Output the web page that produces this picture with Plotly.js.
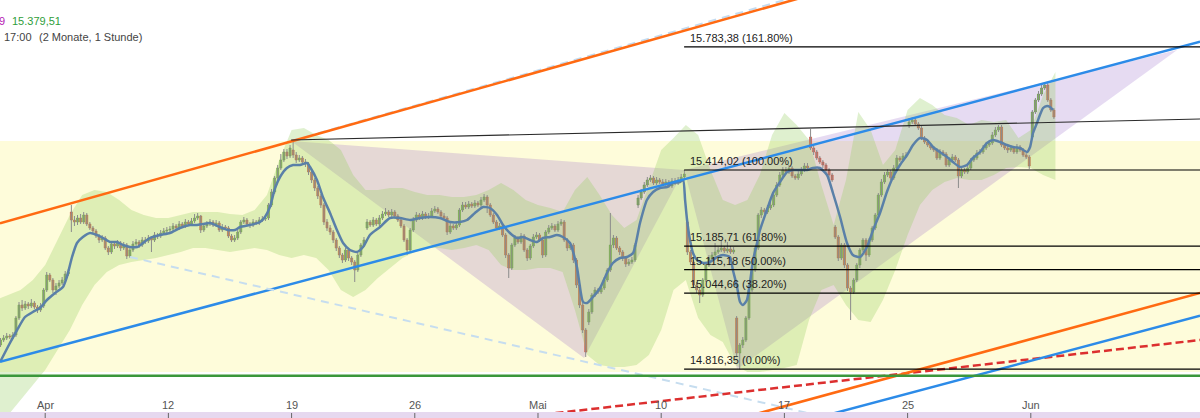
<!DOCTYPE html>
<html><head><meta charset="utf-8">
<script src="https://cdn.plot.ly/plotly-3.0.1.min.js"></script>
<style>html,body{margin:0;padding:0;background:#fff}#chart{width:1200px;height:418px}</style>
</head><body><div id="chart"></div>
<script>
// ---- axis / calendar ----
const tickDays = [0,5,10,15,20,25,30,35,40];
const tickLabels = ['Apr','12','19','26','Mai','10','17','25','Jun'];
const firstDay = -2, lastDay = 40, candlesPerDay = 8;
const xRange = [-1.834, 46.867];
const yRange = [14670, 15924];

// ---- hourly candles (8 per trading day) ----
const open = [
14895,14889,14904,14910,14916,14913,14919,14970,
15009,15000,15012,15006,15015,15003,14994,15006,
15054,15099,15084,15054,15066,15075,15084,15102,
15288,15264,15258,15270,15258,15279,15252,15240,
15231,15216,15204,15210,15180,15168,15192,15186,
15195,15180,15189,15156,15174,15192,15198,15189,
15204,15201,15210,15204,15219,15216,15225,15231,
15234,15237,15246,15240,15252,15246,15258,15252,
15261,15270,15276,15234,15246,15252,15258,15249,
15255,15234,15243,15240,15216,15204,15210,15228,
15258,15264,15252,15249,15258,15255,15264,15267,
15270,15309,15348,15390,15420,15444,15468,15456,
15474,15459,15444,15450,15438,15432,15408,15384,
15360,15336,15309,15258,15240,15228,15204,15180,
15159,15144,15174,15150,15138,15114,15159,15189,
15240,15258,15249,15264,15252,15270,15282,15288,
15279,15288,15276,15264,15246,15204,15174,15234,
15264,15279,15270,15282,15273,15276,15291,15297,
15288,15276,15270,15228,15246,15240,15249,15294,
15309,15303,15312,15306,15315,15309,15324,15333,
15309,15279,15258,15240,15246,15219,15159,15120,
15189,15210,15198,15216,15174,15150,15186,15213,
15219,15204,15159,15228,15240,15246,15234,15252,
15258,15204,15180,15189,15144,15069,15009,14934,
14958,14988,15039,15054,15048,15060,15084,15114,
15189,15210,15180,15168,15150,15132,15138,15144,
15309,15330,15348,15369,15384,15390,15375,15384,
15378,15372,15378,15366,15381,15375,15384,15393,
15258,15168,15138,15069,15054,15039,15084,15129,
15150,15159,15168,15174,15180,15171,15177,15168,
14970,14865,14889,14904,14970,15054,15114,15180,
15279,15294,15288,15300,15309,15339,15369,15399,
15414,15408,15420,15396,15390,15402,15414,15426,
15513,15480,15468,15450,15438,15429,15414,15399,
15243,15213,15150,15189,15129,15060,15048,15084,
15129,15174,15204,15159,15204,15240,15279,15339,
15378,15399,15408,15390,15420,15450,15444,15456,
15549,15558,15564,15552,15540,15510,15498,15489,
15480,15474,15450,15468,15462,15429,15444,15453,
15444,15396,15414,15408,15420,15444,15450,15465,
15468,15480,15489,15495,15519,15534,15543,15489,
15480,15474,15480,15468,15483,15474,15459,15453,
15513,15588,15624,15642,15660,15669,15624,15594];
const high = [
14904,14910,14919,14925,14922,14928,14976,15018,
15024,15021,15018,15027,15021,15009,15015,15060,
15108,15105,15090,15075,15084,15093,15111,15117,
15309,15276,15279,15282,15288,15285,15258,15246,
15237,15222,15219,15216,15186,15198,15201,15204,
15201,15198,15195,15183,15201,15207,15204,15213,
15213,15219,15216,15228,15225,15234,15240,15243,
15246,15255,15252,15261,15258,15267,15264,15270,
15282,15285,15279,15255,15261,15267,15264,15264,
15261,15252,15249,15246,15222,15219,15237,15264,
15273,15270,15258,15267,15264,15273,15276,15279,
15315,15357,15396,15429,15462,15477,15477,15489,
15501,15468,15459,15456,15447,15438,15414,15390,
15366,15342,15315,15267,15249,15234,15210,15186,
15165,15180,15180,15156,15144,15165,15195,15213,
15267,15264,15273,15270,15279,15291,15300,15294,
15297,15294,15282,15270,15252,15210,15240,15273,
15288,15285,15291,15288,15285,15300,15306,15303,
15294,15285,15276,15255,15252,15258,15300,15318,
15318,15321,15318,15324,15321,15333,15342,15339,
15315,15285,15264,15255,15252,15225,15165,15195,
15219,15216,15225,15222,15180,15192,15222,15228,
15225,15210,15234,15249,15255,15252,15261,15267,
15264,15210,15198,15195,15150,15075,15015,14940,
14997,15045,15063,15060,15069,15093,15120,15285,
15219,15216,15186,15174,15156,15147,15153,15195,
15339,15357,15378,15393,15399,15396,15393,15390,
15387,15387,15384,15390,15390,15393,15402,15414,
15264,15174,15144,15078,15060,15090,15135,15159,
15168,15195,15183,15204,15186,15198,15186,15183,
14976,14895,14913,14976,15060,15120,15186,15285,
15303,15300,15309,15318,15348,15378,15408,15423,
15423,15429,15426,15402,15411,15423,15435,15435,
15537,15486,15474,15456,15444,15435,15420,15405,
15249,15219,15195,15195,15135,15066,15090,15135,
15180,15210,15210,15210,15246,15285,15345,15387,
15408,15417,15414,15429,15459,15456,15465,15468,
15570,15573,15570,15558,15546,15516,15504,15495,
15486,15480,15477,15474,15468,15453,15462,15459,
15450,15420,15420,15429,15450,15459,15474,15477,
15489,15498,15504,15528,15543,15549,15549,15495,
15486,15489,15486,15492,15489,15480,15465,15459,
15594,15630,15651,15669,15678,15675,15630,15600];
const low = [
14880,14883,14898,14904,14907,14907,14913,14964,
14991,14994,14997,15000,14997,14985,14988,15000,
15048,15078,15045,15039,15060,15069,15078,15096,
15228,15246,15249,15252,15252,15246,15234,15225,
15210,15195,15198,15174,15159,15162,15177,15180,
15171,15174,15147,15150,15168,15186,15180,15183,
15192,15195,15168,15198,15207,15210,15219,15225,
15228,15231,15234,15234,15240,15240,15246,15246,
15255,15264,15225,15228,15240,15246,15243,15243,
15228,15228,15234,15210,15198,15198,15204,15222,
15252,15246,15240,15243,15249,15249,15258,15261,
15264,15303,15342,15381,15414,15438,15447,15450,
15450,15435,15438,15429,15423,15399,15375,15351,
15327,15300,15249,15231,15219,15195,15171,15150,
15135,15138,15141,15129,15078,15108,15153,15183,
15234,15243,15243,15246,15246,15264,15276,15273,
15273,15270,15258,15240,15198,15159,15168,15228,
15258,15264,15264,15267,15267,15270,15285,15282,
15270,15264,15219,15222,15234,15234,15243,15288,
15297,15297,15300,15300,15303,15303,15318,15285,
15273,15252,15234,15234,15213,15150,15090,15114,
15183,15192,15192,15168,15141,15144,15180,15207,
15198,15150,15153,15222,15234,15228,15228,15246,
15198,15171,15174,15135,15060,15000,14925,14853,
14949,14982,15033,15042,15042,15054,15078,15108,
15180,15174,15159,15141,15123,15126,15132,15138,
15300,15324,15342,15363,15378,15369,15369,15372,
15366,15366,15360,15360,15369,15369,15378,15387,
15159,15129,15060,15045,15015,15033,15078,15123,
15144,15153,15162,15168,15165,15165,15162,15162,
14856,14816,14880,14898,14964,15048,15108,15174,
15270,15282,15282,15294,15303,15333,15363,15393,
15402,15402,15390,15384,15384,15396,15408,15411,
15474,15459,15444,15432,15420,15405,15390,15378,
15207,15141,15144,15120,15051,14964,15042,15078,
15120,15168,15141,15153,15198,15234,15273,15333,
15372,15393,15384,15384,15414,15438,15438,15450,
15540,15552,15546,15534,15504,15492,15483,15474,
15468,15444,15444,15456,15423,15423,15438,15438,
15360,15390,15402,15402,15414,15438,15444,15459,
15462,15474,15483,15489,15513,15528,15483,15474,
15465,15468,15462,15462,15468,15453,15447,15417,
15507,15582,15618,15636,15654,15618,15588,15567];
const close = [
14889,14904,14910,14916,14913,14919,14970,15009,
15000,15012,15006,15015,15003,14994,15006,15054,
15099,15084,15054,15066,15075,15084,15102,15108,
15264,15258,15270,15258,15279,15252,15240,15231,
15216,15204,15210,15180,15168,15192,15186,15195,
15180,15189,15156,15174,15192,15198,15189,15204,
15201,15210,15204,15219,15216,15225,15231,15234,
15237,15246,15240,15252,15246,15258,15252,15261,
15270,15276,15234,15246,15252,15258,15249,15255,
15234,15243,15240,15216,15204,15210,15228,15258,
15264,15252,15249,15258,15255,15264,15267,15270,
15309,15348,15390,15420,15444,15468,15456,15480,
15459,15444,15450,15438,15432,15408,15384,15360,
15336,15309,15258,15240,15228,15204,15180,15159,
15144,15174,15150,15138,15114,15159,15189,15204,
15258,15249,15264,15252,15270,15282,15288,15279,
15288,15276,15264,15246,15204,15174,15234,15264,
15279,15270,15282,15273,15276,15291,15297,15288,
15276,15270,15228,15246,15240,15249,15294,15309,
15303,15312,15306,15315,15309,15324,15333,15309,
15279,15258,15240,15246,15219,15159,15120,15189,
15210,15198,15216,15174,15150,15186,15213,15219,
15204,15159,15228,15240,15246,15234,15252,15258,
15204,15180,15189,15144,15069,15009,14934,14868,
14988,15039,15054,15048,15060,15084,15114,15189,
15210,15180,15168,15150,15132,15138,15144,15189,
15330,15348,15369,15384,15390,15375,15384,15378,
15372,15378,15366,15381,15375,15384,15393,15402,
15168,15138,15069,15054,15039,15084,15129,15150,
15159,15168,15174,15180,15171,15177,15168,15174,
14865,14889,14904,14970,15054,15114,15180,15279,
15294,15288,15300,15309,15339,15369,15399,15414,
15408,15420,15396,15390,15402,15414,15426,15420,
15480,15468,15450,15438,15429,15414,15399,15384,
15213,15150,15189,15129,15060,15048,15084,15129,
15174,15204,15159,15204,15240,15279,15339,15378,
15399,15408,15390,15420,15450,15444,15456,15459,
15558,15564,15552,15540,15510,15498,15489,15480,
15474,15450,15468,15462,15429,15444,15453,15444,
15396,15414,15408,15420,15444,15450,15465,15468,
15480,15489,15495,15519,15534,15543,15489,15480,
15474,15480,15468,15483,15474,15459,15453,15426,
15588,15624,15642,15660,15669,15624,15594,15573];

// ---- envelope band (every half trading day from day -2 to 41) ----
const bandStart = -2, bandStep = 0.5;
const bandUpper = [15024,15039,15054,15084,15129,15204,15279,15339,15354,15348,15324,15294,15279,15270,15270,15279,15288,15288,15288,15282,15279,15294,15339,15444,15534,15540,15519,15504,15474,15399,15354,15354,15360,15360,15348,15339,15339,15333,15333,15339,15354,15375,15354,15324,15309,15300,15288,15354,15393,15339,15279,15240,15264,15369,15474,15510,15549,15519,15414,15324,15309,15324,15399,15519,15585,15549,15504,15369,15249,15384,15588,15534,15429,15474,15594,15630,15609,15579,15570,15549,15564,15558,15564,15510,15534,15639,15708];
const bandLower = [14664,14679,14724,14769,14814,14874,14934,15009,15069,15108,15129,15138,15144,15150,15159,15168,15180,15180,15174,15168,15174,15180,15174,15159,15150,15159,15150,15114,15054,15033,15054,15090,15120,15150,15168,15180,15180,15174,15180,15189,15174,15129,15114,15114,15120,15120,15108,14994,14859,14829,14823,14823,14829,14859,14934,15054,15084,14970,14919,14898,14829,14808,14808,14814,14820,14829,14964,15054,15069,15009,14964,14958,15024,15114,15219,15309,15354,15378,15390,15384,15384,15399,15420,15423,15420,15399,15384];

// ---- moving average ----
const maDays = [-1.83,-1.43,-1.14,-0.82,-0.50,-0.21,0.07,0.40,0.72,0.88,1.09,1.29,1.53,1.82,2.10,2.35,2.63,2.91,3.16,3.44,3.73,3.97,4.25,4.66,5.06,5.47,5.88,6.16,6.40,6.69,7.09,7.42,7.70,7.91,8.31,8.72,8.92,9.12,9.33,9.53,9.81,10.06,10.34,10.63,10.75,11.03,11.27,11.56,11.84,12.09,12.37,12.65,12.90,13.18,13.59,13.99,14.40,14.81,15.21,15.62,16.02,16.43,16.83,17.12,17.44,17.77,18.05,18.34,18.58,18.86,19.15,19.39,19.68,19.96,20.20,20.49,20.77,21.01,21.30,21.58,21.83,21.99,22.23,22.52,22.80,23.04,23.33,23.61,23.86,24.14,24.42,24.67,24.95,25.24,25.48,25.76,25.89,25.97,26.05,26.17,26.29,26.45,26.58,26.70,26.98,27.27,27.51,27.79,27.91,28.08,28.20,28.32,28.48,28.60,28.73,28.89,29.01,29.29,29.54,29.82,30.11,30.35,30.63,30.92,31.16,31.44,31.73,31.97,32.26,32.54,32.78,33.07,33.35,33.60,33.88,34.16,34.41,34.69,34.98,35.22,35.50,35.79,36.03,36.31,36.60,36.84,37.13,37.41,37.65,37.94,38.22,38.47,38.75,39.03,39.28,39.56,39.85,39.97,40.09,40.25,40.37,40.50,40.66,40.78,40.90];
const maValues = [14838,14895,14934,14973,14988,15000,15024,15045,15063,15093,15153,15195,15213,15225,15219,15210,15198,15198,15189,15183,15183,15195,15210,15219,15225,15240,15249,15249,15252,15255,15243,15234,15234,15243,15249,15258,15273,15303,15360,15393,15420,15429,15429,15435,15423,15384,15333,15285,15234,15195,15174,15168,15183,15219,15243,15270,15270,15264,15270,15273,15270,15258,15258,15264,15285,15303,15300,15279,15249,15225,15210,15213,15204,15198,15210,15213,15219,15213,15195,15123,15018,15015,15033,15060,15105,15135,15150,15153,15165,15255,15324,15348,15360,15363,15375,15378,15384,15324,15264,15204,15165,15144,15138,15135,15138,15153,15159,15153,15114,15063,15018,15009,15024,15075,15144,15195,15234,15294,15345,15378,15408,15414,15414,15414,15420,15420,15399,15345,15273,15195,15159,15153,15183,15234,15285,15348,15393,15429,15459,15489,15510,15504,15483,15468,15453,15438,15423,15429,15450,15468,15495,15504,15498,15489,15483,15480,15468,15483,15525,15555,15579,15600,15606,15603,15594];

// ---- Fibonacci retracement ----
const fibStartDay = 25.93;
const fibLevels = [15783.38, 15414.02, 15185.71, 15115.18, 15044.66, 14816.35];
const fibPercents = ['161.80%', '100.00%', '61.80%', '50.00%', '38.20%', '0.00%'];

// ---- drawings (day index, price) ----
const orangeChannelTop = [[-1.834, 15254], [34.69, 16014]];
const lightBlueDashTop = [[9.98, 15501], [32.66, 15980]];
const blueChannel = [[-1.834, 14839], [46.87, 15799]];
const lightBlueDashDown = [[3.44, 15153], [36.0, 14599]];
const blackLine = [[9.98, 15504], [46.87, 15567]];
const redDashed = [[14.42, 14632], [46.87, 14904]];
const orangeLower = [[26.57, 14636], [46.87, 15045]];
const blueLower = [[29.82, 14641], [46.87, 14977]];
const greenLevel = 14797;
const yellowZone = [14808, 15501];
const triangleA = [[9.98, 15501], [25.93, 15414], [21.87, 14850]];
const triangleB = [[25.93, 15414], [45.94, 15774], [28.08, 14816]];

// ---- header ----
const headerValue = '15.379,51';
const headerTime = '17:00';
const headerRange = '(2 Monate, 1 Stunde)';

// ===== build =====
const cx = [];
for (let d = firstDay; d <= lastDay; d++)
  for (let k = 0; k < candlesPerDay; k++) cx.push(d + (k + 0.5) / candlesPerDay);

const bx = bandUpper.map((_, i) => bandStart + i * bandStep);

function fmtDe(v) {
  const parts = v.toFixed(2).split('.');
  return parts[0].replace(/\B(?=(\d{3})+(?!\d))/g, '.') + ',' + parts[1];
}

// wicks
const wx = [], wy = [];
cx.forEach((x, i) => { wx.push(x, x, null); wy.push(low[i], high[i], null); });
// bodies
const bodyBase = open.map((o, i) => Math.min(o, close[i]));
const bodySize = open.map((o, i) => Math.abs(close[i] - o));
const rising = open.map((o, i) => close[i] >= o);
const bodyFill = rising.map(r => r ? '#7ab64c' : '#e0634e');
const bodyEdge = rising.map(r => r ? '#5a9136' : '#bf4a3a');

const traces = [
  {type: 'scatter', mode: 'lines', x: bx.concat(bx.slice().reverse()),
   y: bandUpper.concat(bandLower.slice().reverse()), fill: 'toself',
   fillcolor: 'rgba(150,205,95,0.30)', line: {width: 0}, hoverinfo: 'skip', showlegend: false},
  {type: 'scatter', mode: 'lines', x: wx, y: wy, connectgaps: false,
   line: {color: '#8c8c8c', width: 1}, hoverinfo: 'skip', showlegend: false},
  {type: 'bar', x: cx, y: bodySize, base: bodyBase, width: 0.082,
   marker: {color: bodyFill, line: {color: bodyEdge, width: 0.6}},
   hoverinfo: 'skip', showlegend: false},
  {type: 'scatter', mode: 'lines', x: maDays, y: maValues,
   line: {color: '#5a80a8', width: 2.5, shape: 'spline', smoothing: 0.6},
   hoverinfo: 'skip', showlegend: false}
];

function seg(p, color, width, dash) {
  return {type: 'line', xref: 'x', yref: 'y', x0: p[0][0], y0: p[0][1], x1: p[1][0], y1: p[1][1],
          line: {color: color, width: width, dash: dash || 'solid'}, layer: 'above'};
}
function poly(pts, fill) {
  return {type: 'path', xref: 'x', yref: 'y', layer: 'below', line: {width: 0}, fillcolor: fill,
          path: 'M ' + pts.map(p => p[0] + ',' + p[1]).join(' L ') + ' Z'};
}

const shapes = [
  {type: 'rect', xref: 'paper', yref: 'y', x0: 0, x1: 1, y0: yellowZone[0], y1: yellowZone[1],
   fillcolor: '#fefcda', line: {width: 0}, layer: 'below'},
  poly(triangleA, 'rgba(139,91,195,0.22)'),
  poly(triangleB, 'rgba(139,91,195,0.22)'),
  seg(lightBlueDashTop, '#c3dbf0', 2, '8px,6px'),
  seg(orangeChannelTop, '#ff6a12', 2.5),
  seg(blueChannel, '#2c8be8', 2.5),
  seg(lightBlueDashDown, '#c6ddef', 2, '8px,6px'),
  seg(blackLine, '#2a2a2a', 1.2),
  seg(redDashed, '#dc2f2f', 2.5, '8px,4px'),
  seg(orangeLower, '#ff6a12', 2.5),
  seg(blueLower, '#2c8be8', 2.5),
  {type: 'line', xref: 'paper', yref: 'y', x0: 0, x1: 1, y0: greenLevel, y1: greenLevel,
   line: {color: '#3b973b', width: 2.5}, layer: 'above'},
  {type: 'rect', xref: 'paper', yref: 'paper', x0: 0, x1: 1, y0: 0, y1: 6 / 418,
   fillcolor: '#e6d8ef', line: {width: 0}, layer: 'above'}
];
fibLevels.forEach(v => shapes.push({type: 'line', xref: 'x', yref: 'y', x0: fibStartDay, x1: xRange[1] + 1,
  y0: v, y1: v, line: {color: '#000', width: 1.2}, layer: 'above'}));
tickDays.forEach(d => shapes.push({type: 'line', xref: 'x', yref: 'paper', x0: d, x1: d, y0: 0, y1: 5 / 418,
  line: {color: '#666', width: 1}, layer: 'above'}));

const annotations = [];
fibLevels.forEach((v, i) => annotations.push({xref: 'x', yref: 'y', x: fibStartDay + 0.17, y: v,
  xanchor: 'left', yanchor: 'bottom', yshift: 1, showarrow: false,
  text: fmtDe(v) + ' (' + fibPercents[i] + ')', font: {size: 11, color: '#222'}}));
tickDays.forEach((d, i) => annotations.push({xref: 'x', yref: 'paper', x: d, y: 13 / 418,
  xanchor: 'center', yanchor: 'middle', showarrow: false, text: tickLabels[i],
  font: {size: 11, color: '#555'}}));
annotations.push({xref: 'paper', yref: 'paper', x: -3 / 1200, y: 1 - 21 / 418, xanchor: 'left', yanchor: 'middle',
  showarrow: false, text: '9', font: {size: 11, color: '#b519b5'}});
annotations.push({xref: 'paper', yref: 'paper', x: 10 / 1200, y: 1 - 21 / 418, xanchor: 'left', yanchor: 'middle',
  showarrow: false, text: headerValue, font: {size: 11, color: '#2f9e3a'}});
annotations.push({xref: 'paper', yref: 'paper', x: 2 / 1200, y: 1 - 37 / 418, xanchor: 'left', yanchor: 'middle',
  showarrow: false, text: headerTime, font: {size: 11, color: '#444'}});
annotations.push({xref: 'paper', yref: 'paper', x: 37 / 1200, y: 1 - 37 / 418, xanchor: 'left', yanchor: 'middle',
  showarrow: false, text: headerRange, font: {size: 11, color: '#444'}});

const layout = {
  width: 1200, height: 418,
  margin: {l: 0, r: 0, t: 0, b: 0, pad: 0},
  paper_bgcolor: '#ffffff', plot_bgcolor: '#ffffff',
  font: {family: 'Liberation Sans, Arial, sans-serif', size: 11, color: '#333'},
  showlegend: false, barmode: 'overlay',
  xaxis: {range: xRange, visible: false, fixedrange: true},
  yaxis: {range: yRange, visible: false, fixedrange: true},
  shapes: shapes, annotations: annotations
};

Plotly.newPlot('chart', traces, layout, {displayModeBar: false, staticPlot: true});
</script>
</body></html>
